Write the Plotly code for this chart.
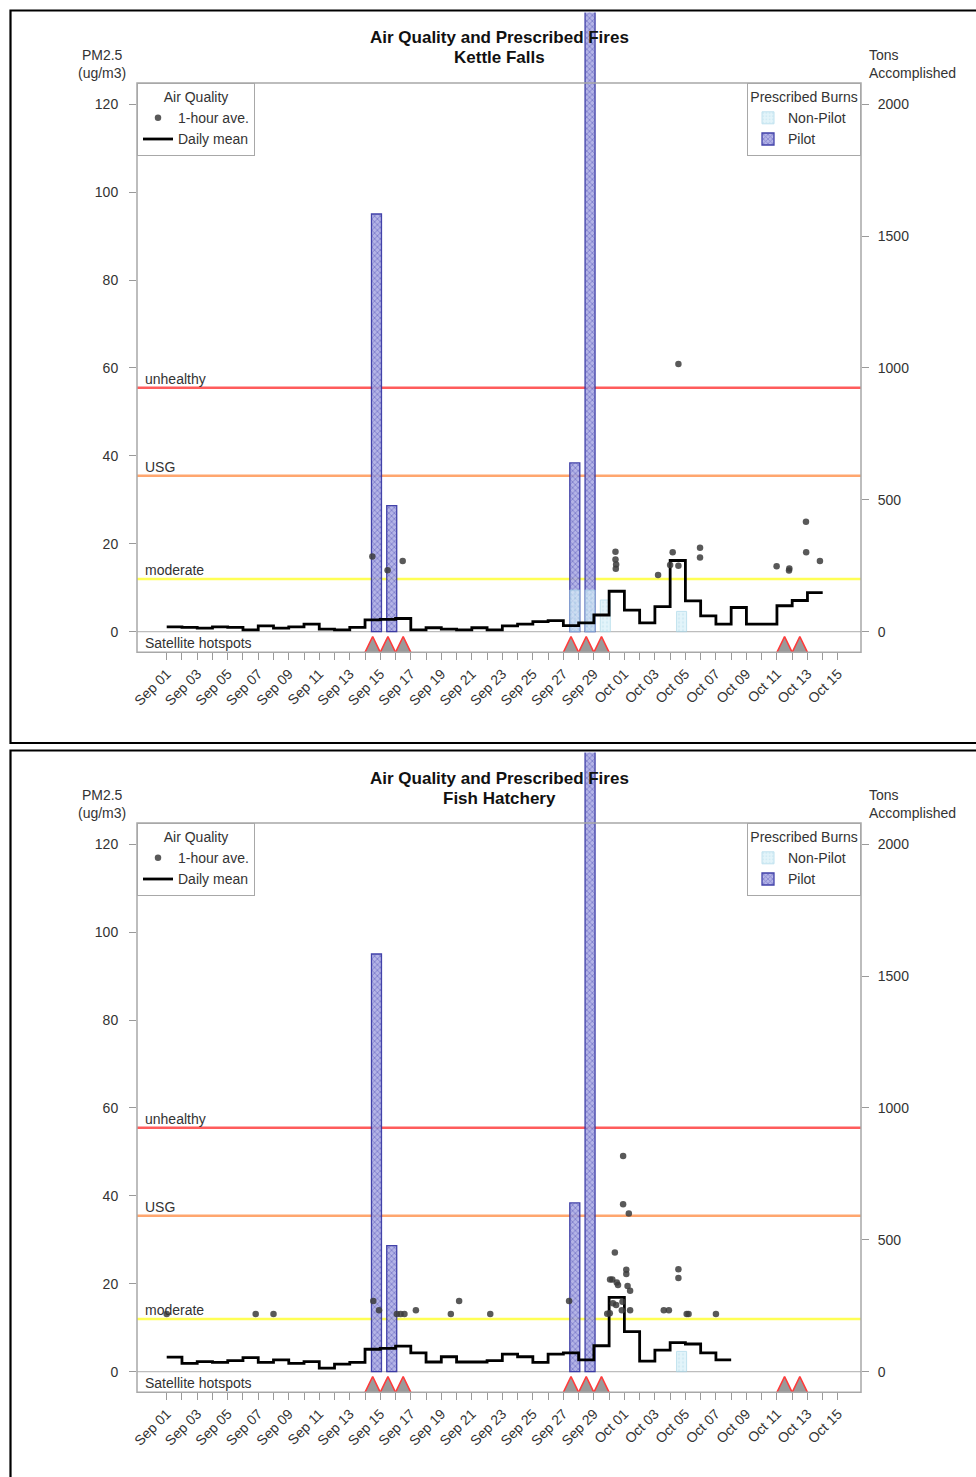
import pandas as pd
import plotly.graph_objects as go

# ------------------------------------------------------------------ data
main_title = "Air Quality and Prescribed Fires"
station_names = ["Kettle Falls", "Fish Hatchery"]

daily_start = "2015-09-01"
kf_daily_mean = [1.1, 1.0, 0.8, 1.1, 1.0, 0.4, 1.3, 0.8, 1.1, 1.7, 0.6, 0.4, 1.0, 2.7, 2.8,
                 3.0, 0.4, 0.9, 0.6, 0.4, 0.9, 0.4, 1.3, 1.7, 2.3, 2.5, 1.4, 2.0, 3.8, 9.2,
                 4.9, 2.0, 5.7, 16.2, 7.0, 3.6, 1.7, 5.5, 1.7, 1.7, 5.9, 7.1, 8.9]
fh_daily_mean = [3.3, 1.9, 2.3, 2.1, 2.5, 3.2, 2.1, 2.7, 1.9, 2.3, 0.8, 1.7, 2.1, 5.1, 5.3,
                 5.8, 4.3, 2.2, 3.4, 2.2, 2.2, 2.5, 4.0, 3.4, 2.1, 4.0, 4.3, 2.7, 5.9, 16.9,
                 9.1, 2.4, 4.9, 6.6, 6.3, 4.3, 2.7]

kf_hour_times = ["2015-09-14 11:30", "2015-09-15 11:30", "2015-09-16 11:15",
                 "2015-09-30 10:00", "2015-09-30 10:00", "2015-09-30 11:00", "2015-09-30 10:30",
                 "2015-10-03 05:00", "2015-10-04 04:00", "2015-10-04 00:00", "2015-10-04 13:00",
                 "2015-10-04 13:00", "2015-10-05 23:00", "2015-10-05 23:00", "2015-10-10 23:30",
                 "2015-10-11 19:30", "2015-10-11 19:00", "2015-10-12 21:40", "2015-10-12 22:00",
                 "2015-10-13 19:40"]
kf_hour_values = [17.1, 14.0, 16.1, 18.2, 16.4, 15.3, 14.3, 12.9, 18.1, 15.2, 15.0, 60.9,
                  19.1, 16.9, 14.9, 14.4, 13.9, 25.0, 18.1, 16.1]

fh_hour_times = ["2015-09-01 00:00", "2015-09-06 20:00", "2015-09-08 00:00", "2015-09-14 13:00",
                 "2015-09-14 22:00", "2015-09-16 02:00", "2015-09-16 08:00", "2015-09-16 14:00",
                 "2015-09-17 08:00", "2015-09-19 15:00", "2015-09-20 04:00", "2015-09-22 05:00",
                 "2015-09-27 09:00", "2015-09-29 21:00", "2015-09-30 01:00", "2015-09-30 01:30",
                 "2015-09-30 06:00", "2015-09-30 09:00", "2015-09-30 05:00", "2015-09-30 12:00",
                 "2015-09-30 14:00", "2015-09-30 11:00", "2015-09-30 20:00", "2015-09-30 21:00",
                 "2015-09-30 22:00", "2015-09-30 22:00", "2015-10-01 07:00", "2015-10-01 03:00",
                 "2015-10-01 03:00", "2015-10-01 05:00", "2015-10-01 09:00", "2015-10-01 09:00",
                 "2015-10-03 14:00", "2015-10-03 22:00", "2015-10-04 13:00", "2015-10-04 13:00",
                 "2015-10-05 02:00", "2015-10-05 05:00", "2015-10-07 00:00"]
fh_hour_values = [13.1, 13.1, 13.1, 16.1, 14.0, 13.1, 13.1, 13.1, 14.0, 13.1, 16.1, 13.1,
                  16.1, 13.2, 13.3, 21.0, 15.6, 27.1, 21.0, 20.3, 19.7, 15.2, 14.0, 15.9,
                  49.1, 38.1, 36.0, 23.2, 22.2, 19.5, 18.4, 14.0, 14.0, 14.0, 23.3, 21.3,
                  13.1, 13.1, 13.1]

pilot_dates = ["2015-09-14", "2015-09-15", "2015-09-27", "2015-09-28"]
pilot_tons = [1584, 478, 640, 2500]
kf_nonpilot_dates = ["2015-09-27", "2015-09-28", "2015-09-29", "2015-10-04"]
kf_nonpilot_tons = [158, 158, 120, 77]
fh_nonpilot_dates = ["2015-10-04"]
fh_nonpilot_tons = [77]

hotspot_dates = ["2015-09-14", "2015-09-15", "2015-09-16", "2015-09-27", "2015-09-28",
                 "2015-09-29", "2015-10-11", "2015-10-12"]

threshold_names = ["unhealthy", "USG", "moderate"]
threshold_values = [55.5, 35.5, 12.0]

pm_ticks = [0, 20, 40, 60, 80, 100, 120]
tons_ticks = [0, 500, 1000, 1500, 2000]
tick_start, tick_end = "2015-09-01", "2015-10-15"

# ------------------------------------------------------------------ style / geometry
W, H = 976, 1477
FONT = "Liberation Sans, Arial, Helvetica, sans-serif"
TXT = "#333333"
threshold_colors = ["#FF5C5C", "#FFA66E", "#FFFF55"]
PANEL_OFF = [0, 740]
PLOT_L, PLOT_R = 137, 861
BOX_TOP, BOX_BOT, DOM_TOP = 83, 652.3, 12.5
PX_PER_UNIT = 4.395
YMIN = -4.69
YMAX = YMIN + (BOX_BOT - DOM_TOP) / PX_PER_UNIT
TONS_PER_UNIT = 2000 / 120
HS_TOP = -1.1
DAY = pd.Timedelta(days=1)
t0 = pd.Timestamp(tick_start)
XMIN = t0 - 1.947 * DAY
XMAX = t0 + 45.51 * DAY
BAR_OFFSET = pd.Timedelta(hours=18)
BAR_W = 0.655 * 86400000


def px_x(p):
    return p / W


def px_y(p):
    return 1 - p / H


fig = go.Figure()

panels = [
    dict(daily=kf_daily_mean, ht=kf_hour_times, hv=kf_hour_values,
         npd=kf_nonpilot_dates, npt=kf_nonpilot_tons),
    dict(daily=fh_daily_mean, ht=fh_hour_times, hv=fh_hour_values,
         npd=fh_nonpilot_dates, npt=fh_nonpilot_tons),
]

tick_days = pd.date_range(tick_start, tick_end, freq="D")
tick_text = [d.strftime("%b %d") if i % 2 == 0 else "" for i, d in enumerate(tick_days)]

for k, p in enumerate(panels):
    off = PANEL_OFF[k]
    xa = "x" if k == 0 else "x2"
    ya_t = "y" if k == 0 else "y3"      # tons axis (right, primary)
    ya_p = "y2" if k == 0 else "y4"     # PM axis (left, overlay)
    leg_aq = "legend" if k == 0 else "legend3"
    leg_pb = "legend2" if k == 0 else "legend4"

    # bars: pilot then non-pilot
    fig.add_trace(go.Bar(
        x=[pd.Timestamp(d) + BAR_OFFSET for d in pilot_dates], y=pilot_tons,
        width=BAR_W, name="Pilot", xaxis=xa, yaxis=ya_t, legend=leg_pb, legendrank=2,
        opacity=0.9,
        marker=dict(color="#9C9CDC", line=dict(color="#2E2EA0", width=1.3),
                    pattern=dict(shape="x", fgcolor="#3A3AAC", bgcolor="#ACACE4",
                                 size=4, solidity=0.4))))
    fig.add_trace(go.Bar(
        x=[pd.Timestamp(d) + BAR_OFFSET for d in p["npd"]], y=p["npt"],
        width=BAR_W, name="Non-Pilot", xaxis=xa, yaxis=ya_t, legend=leg_pb, legendrank=1,
        opacity=0.7,
        marker=dict(color="#CFEAF4", line=dict(color="#A6D6E8", width=1),
                    pattern=dict(shape=".", fgcolor="#A6D6E8", bgcolor="#D8F0F8",
                                 size=4, solidity=0.3))))

    # hotspot triangles
    hx, hy = [], []
    for d in hotspot_dates:
        d = pd.Timestamp(d)
        hx += [d, d + DAY / 2, d + DAY, None]
        hy += [YMIN, HS_TOP, YMIN, None]
    fig.add_trace(go.Scatter(
        x=hx, y=hy, mode="lines", fill="toself", fillcolor="#9A9A9A",
        line=dict(color="#FF3B3B", width=1.6), xaxis=xa, yaxis=ya_p,
        showlegend=False, hoverinfo="skip"))

    # daily mean step line
    days = pd.date_range(daily_start, periods=len(p["daily"]) + 1, freq="D")
    fig.add_trace(go.Scatter(
        x=days, y=p["daily"] + [p["daily"][-1]], mode="lines", line_shape="hv",
        line=dict(color="black", width=2.8), name="Daily mean", xaxis=xa, yaxis=ya_p,
        legend=leg_aq, legendrank=2))

    # hourly points
    fig.add_trace(go.Scatter(
        x=pd.to_datetime(p["ht"]), y=p["hv"], mode="markers", name="1-hour ave.",
        marker=dict(color="#3C3C3C", size=6.5, opacity=0.85), xaxis=xa, yaxis=ya_p,
        legend=leg_aq, legendrank=1))

    # threshold lines + labels
    for nm, val, col in zip(threshold_names, threshold_values, threshold_colors):
        fig.add_shape(type="line", xref=f"{xa} domain", yref=ya_p, x0=0, x1=1, y0=val, y1=val,
                      line=dict(color=col, width=2.5), layer="below")
        fig.add_annotation(text=nm, xref=f"{xa} domain", yref=ya_p, x=0.008, y=val,
                           xanchor="left", yanchor="bottom", showarrow=False, yshift=-1,
                           font=dict(size=14, color=TXT, family=FONT))
    # zero line
    fig.add_shape(type="line", xref=f"{xa} domain", yref=ya_p, x0=0, x1=1, y0=0, y1=0,
                  line=dict(color="#BDBDBD", width=1.2), layer="below")
    fig.add_annotation(text="Satellite hotspots", xref=f"{xa} domain", yref=ya_p,
                       x=0.008, y=YMIN, xanchor="left", yanchor="bottom", showarrow=False,
                       yshift=-1, font=dict(size=14, color=TXT, family=FONT))

    # plot frame and panel border
    fig.add_shape(type="rect", xref="paper", yref="paper",
                  x0=px_x(PLOT_L), x1=px_x(PLOT_R), y0=px_y(BOX_BOT + off), y1=px_y(BOX_TOP + off),
                  line=dict(color="#A8A8A8", width=1.5), layer="above")
    fig.add_shape(type="rect", xref="paper", yref="paper",
                  x0=px_x(10.5), x1=px_x(995), y0=px_y(743 + off if k == 0 else 1495),
                  y1=px_y(10.5 + off), line=dict(color="black", width=2.2), layer="above")

    # titles
    fig.add_annotation(text=f"<b>{main_title}</b>", xref="paper", yref="paper",
                       x=px_x(499), y=px_y(38 + off), showarrow=False,
                       xanchor="center", yanchor="middle",
                       font=dict(size=17, color="#111", family=FONT))
    fig.add_annotation(text=f"<b>{station_names[k]}</b>", xref="paper", yref="paper",
                       x=px_x(499), y=px_y(58 + off), showarrow=False,
                       xanchor="center", yanchor="middle",
                       font=dict(size=17, color="#111", family=FONT))
    fig.add_annotation(text="PM2.5<br>(ug/m3)", xref="paper", yref="paper",
                       x=px_x(102), y=px_y(64 + off), showarrow=False, align="center",
                       xanchor="center", yanchor="middle",
                       font=dict(size=14, color=TXT, family=FONT))
    fig.add_annotation(text="Tons<br>Accomplished", xref="paper", yref="paper",
                       x=px_x(867), y=px_y(64 + off), showarrow=False, align="left",
                       xanchor="left", yanchor="middle",
                       font=dict(size=14, color=TXT, family=FONT))

    dom_y = [px_y(BOX_BOT + off), px_y(DOM_TOP + off)]
    axis_common = dict(showgrid=False, zeroline=False, showline=False, ticks="outside",
                       ticklen=7, tickcolor="#9A9A9A", tickwidth=1, automargin=False,
                       tickfont=dict(size=14, color=TXT, family=FONT))
    xkey = "xaxis" if k == 0 else "xaxis2"
    fig.update_layout({
        xkey: dict(domain=[px_x(PLOT_L), px_x(PLOT_R)], range=[XMIN, XMAX], type="date",
                   anchor=ya_t, tickvals=tick_days, ticktext=tick_text, tickangle=-45,
                   **axis_common),
        ("yaxis" if k == 0 else "yaxis3"): dict(
            domain=dom_y, anchor=xa, side="right", range=[YMIN * TONS_PER_UNIT, YMAX * TONS_PER_UNIT],
            tickvals=tons_ticks, ticklabelstandoff=6, **axis_common),
        ("yaxis2" if k == 0 else "yaxis4"): dict(
            domain=dom_y, anchor=xa, overlaying=ya_t, side="left", range=[YMIN, YMAX],
            tickvals=pm_ticks, ticklabelstandoff=8, **axis_common),
    })

    legend_common = dict(bgcolor="white", bordercolor="#A8A8A8", borderwidth=1,
                         font=dict(size=14, color=TXT, family=FONT), itemwidth=30,
                         tracegroupgap=0, yanchor="top")
    fig.update_layout({
        leg_aq: dict(x=px_x(PLOT_L), xanchor="left", y=px_y(BOX_TOP + off),
                     title=dict(text="Air Quality", side="top center",
                                font=dict(size=14, color=TXT, family=FONT)),
                     **legend_common),
        leg_pb: dict(x=px_x(PLOT_R), xanchor="right", y=px_y(BOX_TOP + off),
                     title=dict(text="Prescribed Burns", side="top center",
                                font=dict(size=14, color=TXT, family=FONT)),
                     **legend_common),
    })

fig.update_layout(
    width=W, height=H, margin=dict(l=0, r=0, t=0, b=0, autoexpand=False),
    paper_bgcolor="white", plot_bgcolor="white", barmode="overlay",
    font=dict(family=FONT, color=TXT), showlegend=True,
)

fig.write_html("out.html", config={"displayModeBar": False},
               post_script="document.body.style.margin='0';document.body.style.overflow='hidden';")
